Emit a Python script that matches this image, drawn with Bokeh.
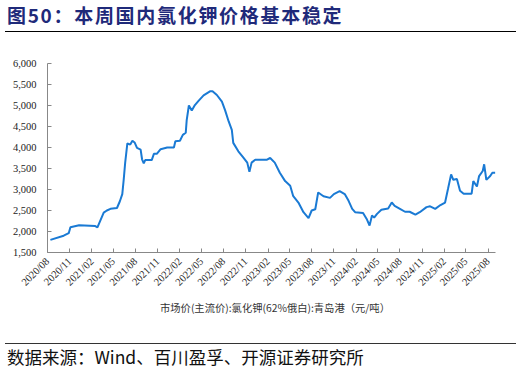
import math
import pandas as pd
from bokeh.plotting import figure
from bokeh.layouts import column
from bokeh.models import (ColumnDataSource, FixedTicker, DatetimeTickFormatter, NumeralTickFormatter,
                          Range1d, Legend, LegendItem, Div)
from bokeh.embed import file_html
from bokeh.resources import INLINE

# ---------------- data ----------------
dates = ["2020-08-13", "2020-10-07", "2020-10-28", "2020-11-04", "2020-12-10", "2021-02-15", "2021-02-24",
         "2021-03-22", "2021-04-04", "2021-04-19", "2021-05-16", "2021-05-28", "2021-06-07", "2021-06-13",
         "2021-06-19", "2021-06-28", "2021-07-10", "2021-07-19", "2021-07-28", "2021-08-07", "2021-08-22",
         "2021-08-28", "2021-09-04", "2021-09-10", "2021-10-07", "2021-10-16", "2021-10-28", "2021-11-13",
         "2021-12-10", "2022-01-07", "2022-01-13", "2022-02-01", "2022-02-13", "2022-02-25", "2022-03-01",
         "2022-03-10", "2022-03-22", "2022-04-04", "2022-04-19", "2022-05-10", "2022-06-07", "2022-06-16",
         "2022-07-04", "2022-07-25", "2022-08-07", "2022-08-22", "2022-09-04", "2022-09-10", "2022-10-01",
         "2022-10-22", "2022-11-07", "2022-11-16", "2022-11-25", "2022-12-10", "2023-01-28", "2023-02-10",
         "2023-03-01", "2023-03-22", "2023-04-13", "2023-05-04", "2023-05-16", "2023-06-07", "2023-06-28",
         "2023-07-19", "2023-08-01", "2023-08-16", "2023-08-28", "2023-09-19", "2023-10-16", "2023-11-01",
         "2023-11-25", "2023-12-16", "2024-01-01", "2024-01-16", "2024-01-28", "2024-03-01", "2024-03-16",
         "2024-03-28", "2024-04-07", "2024-04-16", "2024-04-28", "2024-05-16", "2024-06-13", "2024-06-28",
         "2024-07-10", "2024-08-01", "2024-08-22", "2024-09-10", "2024-10-04", "2024-10-22", "2024-11-19",
         "2024-12-04", "2024-12-25", "2025-01-16", "2025-02-04", "2025-02-16", "2025-03-01", "2025-03-10",
         "2025-03-25", "2025-04-07", "2025-04-22", "2025-05-25", "2025-06-01", "2025-06-16", "2025-06-25",
         "2025-07-10", "2025-07-16", "2025-07-25", "2025-08-10", "2025-08-19", "2025-08-31"]
prices = [1800, 1900, 1960, 2100, 2150, 2130, 2100,
          2450, 2500, 2540, 2560, 2720, 2890, 3240,
          3640, 4100, 4070, 4160, 4120, 3990, 3950,
          3720, 3620, 3700, 3700, 3850, 3850, 3960,
          4000, 4000, 4150, 4160, 4300, 4350, 4650,
          5000, 4880, 5010, 5110, 5240, 5340, 5340,
          5250, 5090, 4890, 4620, 4420, 4110, 3910,
          3760, 3640, 3420, 3640, 3710, 3710, 3750,
          3640, 3400, 3200, 3090, 2850, 2690, 2460,
          2320, 2500, 2530, 2930, 2840, 2800, 2890,
          2960, 2890, 2730, 2540, 2460, 2440, 2300,
          2140, 2380, 2330, 2420, 2520, 2550, 2690,
          2610, 2540, 2470, 2470, 2400, 2460, 2580,
          2600, 2540, 2630, 2690, 3010, 3360, 3230,
          3250, 2970, 2900, 2900, 3200, 3070, 3320,
          3440, 3600, 3230, 3320, 3400, 3400]
x_tick_months = ["2020-08", "2020-11", "2021-02", "2021-05", "2021-08", "2021-11", "2022-02", "2022-05",
                 "2022-08", "2022-11", "2023-02", "2023-05", "2023-08", "2023-11", "2024-02", "2024-05",
                 "2024-08", "2024-11", "2025-02", "2025-05", "2025-08"]
y_ticks = [1500, 2000, 2500, 3000, 3500, 4000, 4500, 5000, 5500, 6000]
series_name = "市场价(主流价):氯化钾(62%俄白):青岛港（元/吨）"
title_text = "图50：本周国内氯化钾价格基本稳定"
source_text = "数据来源：Wind、百川盈孚、开源证券研究所"

CJK = "Noto Sans CJK SC"
SERIF = "Liberation Serif"
W = 521
LINE_COLOR = "#1a7ad4"


def ms(s):
    return pd.Timestamp(s).value / 1e6


# ---------------- title ----------------
title_div = Div(text=title_text, width=W - 10, height=32, margin=(0, 5, 0, 5),
                styles={"font-family": CJK, "font-size": "19px", "font-weight": "bold",
                        "letter-spacing": "1.7px",
                        "color": "#1f2a7a", "border-bottom": "1.5px solid #000000",
                        "box-sizing": "border-box", "line-height": "22px", "padding-top": "4px",
                        "padding-left": "2px", "white-space": "nowrap"})

# ---------------- main chart ----------------
src = ColumnDataSource(dict(x=pd.to_datetime(dates), y=prices))
p = figure(width=W, height=262, x_axis_type="datetime", output_backend="svg", toolbar_location=None,
           min_border_left=47, min_border_right=26, min_border_top=31, min_border_bottom=40,
           x_range=Range1d(ms("2020-08-01"), ms("2025-09-01")), y_range=Range1d(1500, 6000))
p.outline_line_color = None
p.xgrid.grid_line_color = None
p.ygrid.grid_line_color = None

p.line("x", "y", source=src, line_color=LINE_COLOR, line_width=2)

p.xaxis.ticker = FixedTicker(ticks=[ms(m + "-01") for m in x_tick_months])
p.xaxis.formatter = DatetimeTickFormatter(days="%Y/%m", months="%Y/%m", years="%Y/%m")
p.xaxis.major_label_orientation = math.pi / 4
p.yaxis.ticker = FixedTicker(ticks=y_ticks)
p.yaxis.formatter = NumeralTickFormatter(format="0,0")
for ax in (p.xaxis, p.yaxis):
    ax.axis_line_color = "#888888"
    ax.major_tick_line_color = "#888888"
    ax.major_tick_in = 4
    ax.major_tick_out = 0
    ax.minor_tick_line_color = None
    ax.major_label_text_font = SERIF
    ax.major_label_text_font_size = "10.5px"
    ax.major_label_text_color = "#222222"
p.yaxis.major_label_standoff = 11
p.xaxis.major_label_standoff = 7

# ---------------- legend strip ----------------
lg = figure(width=W, height=49, output_backend="svg", toolbar_location=None,
            min_border_left=47, min_border_right=26, min_border_top=0, min_border_bottom=0,
            x_range=Range1d(0, 1), y_range=Range1d(0, 1))
lg.axis.visible = False
lg.grid.visible = False
lg.outline_line_color = None
lr = lg.line(x=[], y=[], line_color=LINE_COLOR, line_width=2)
legend = Legend(items=[LegendItem(label=series_name, renderers=[lr])], location=(89, 28),
                label_text_font=CJK, label_text_font_size="10.3px", label_text_color="#333333",
                border_line_color=None, background_fill_alpha=0, glyph_width=20, glyph_height=10,
                padding=0, margin=0, label_standoff=4)
lg.add_layout(legend, "center")

# ---------------- source ----------------
source_div = Div(text=source_text, width=W - 10, height=31, margin=(0, 5, 0, 5),
                 styles={"font-family": CJK, "font-size": "17.5px", "color": "#111111",
                         "border-top": "1.5px solid #333333", "box-sizing": "border-box",
                         "padding-top": "2px", "padding-left": "2px", "line-height": "22px",
                         "white-space": "nowrap"})

layout = column(title_div, p, lg, source_div, spacing=0)
open("out.html", "w").write(file_html(layout, INLINE))
